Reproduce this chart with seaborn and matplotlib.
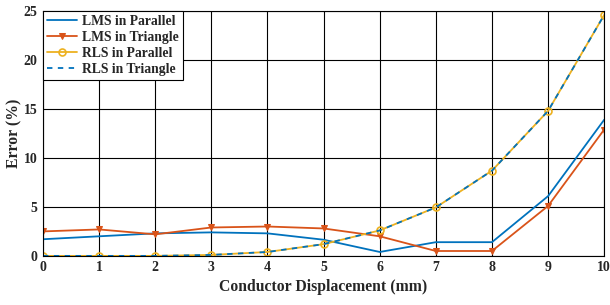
import matplotlib
matplotlib.use("Agg")
import matplotlib.pyplot as plt
import seaborn as sns
import pandas as pd

displacement = [0, 1, 2, 3, 4, 5, 6, 7, 8, 9, 10]
lms_parallel = [1.7, 2.0, 2.3, 2.4, 2.3, 1.65, 0.4, 1.4, 1.4, 6.1, 13.9]
lms_triangle = [2.5, 2.7, 2.2, 2.9, 3.0, 2.8, 2.0, 0.5, 0.5, 5.1, 12.9]
rls_parallel = [0.0, 0.0, 0.0, 0.1, 0.4, 1.2, 2.6, 4.95, 8.7, 14.8, 24.6]
rls_triangle = [0.0, 0.0, 0.0, 0.1, 0.4, 1.2, 2.6, 4.95, 8.7, 14.8, 24.6]
x_ticks = [0, 1, 2, 3, 4, 5, 6, 7, 8, 9, 10]
y_ticks = [0, 5, 10, 15, 20, 25]

sns.set_style("white")
plt.rcParams['font.family'] = ['Liberation Serif', 'DejaVu Serif']
plt.rcParams['font.weight'] = 'bold'

fig = plt.figure(figsize=(6.1, 3.05), dpi=100)
ax = fig.add_axes([0.0705, 0.161, 0.92, 0.803])

blue = '#0072BD'
orange = '#D95319'
yellow = '#EDB120'

df = pd.DataFrame({'x': displacement, 'lp': lms_parallel, 'lt': lms_triangle,
                   'rp': rls_parallel, 'rt': rls_triangle})

sns.lineplot(data=df, x='x', y='lp', ax=ax, color=blue, lw=1.3, label='LMS in Parallel')
sns.lineplot(data=df, x='x', y='lt', ax=ax, color=orange, lw=1.3, marker='v',
             markersize=5, markerfacecolor=orange, markeredgecolor=orange,
             label='LMS in Triangle')
sns.lineplot(data=df, x='x', y='rp', ax=ax, color=yellow, lw=1.3, marker='o',
             markersize=5, markerfacecolor='none', markeredgecolor=yellow,
             markeredgewidth=1.2, label='RLS in Parallel')
sns.lineplot(data=df, x='x', y='rt', ax=ax, color=blue, lw=1.3, linestyle=(0, (3, 3)),
             label='RLS in Triangle')

ax.set_xlim(0, 10)
ax.set_ylim(0, 25)
ax.set_xticks(x_ticks)
ax.set_yticks(y_ticks)
ax.grid(True, color='black', lw=0.8)
ax.set_axisbelow(True)
for s in ax.spines.values():
    s.set_color('black')
    s.set_linewidth(0.8)
ax.tick_params(axis='both', labelsize=10, length=0, pad=4)
for lab in ax.get_xticklabels() + ax.get_yticklabels():
    lab.set_fontweight('bold')
ax.set_xlabel('Conductor Displacement (mm)', fontsize=11.3, fontweight='bold', labelpad=3)
ax.set_ylabel('Error (%)', fontsize=11.3, fontweight='bold', labelpad=1)

leg = ax.legend(loc='upper left', fontsize=9.8, frameon=True, fancybox=False,
                borderaxespad=0, borderpad=0.3, labelspacing=0.22, handlelength=2.2,
                handletextpad=0.4, framealpha=1)
leg.get_frame().set_edgecolor('black')
leg.get_frame().set_linewidth(0.8)
for t in leg.get_texts():
    t.set_fontweight('bold')

fig.savefig('out.png', dpi=100)
